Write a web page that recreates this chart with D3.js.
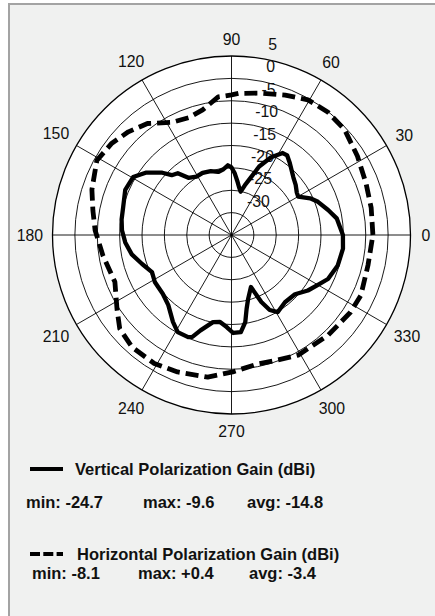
<!DOCTYPE html>
<html>
<head>
<meta charset="utf-8">
<script src="https://cdn.jsdelivr.net/npm/d3@7/dist/d3.min.js"></script>
<style>
  body { margin: 0; background: #fff; }
  svg text { font-family: "Liberation Sans", Arial, sans-serif; fill: #111; }
</style>
</head>
<body>
<script>
// polar pattern, angles in degrees (counter-clockwise from 0 = right), gain in dBi
var vertAngles = [0, 5, 9, 14.5, 21, 25, 30, 33, 38, 43, 51, 55, 58, 63, 68, 72, 75, 78, 81, 84, 87, 90, 93, 97, 102, 108, 115, 121, 127, 131, 135, 138, 144, 149.5, 157, 165.5, 172, 177.5, 184, 191, 198, 205, 211.5, 220.5, 228, 236, 241, 247, 249, 252, 258, 262.5, 267, 271, 275.5, 279, 281.5, 284.5, 290.5, 294, 297, 301, 308.5, 317, 324, 330, 335.5, 344, 353];
var vertGain = [-10.1, -10.8, -11.2, -12.7, -14.3, -15.6, -17.8, -17.6, -16.8, -16.1, -14.3, -13.3, -13.4, -15.5, -18.5, -21.8, -23.5, -25.1, -24.2, -22.8, -21.2, -19.9, -19.4, -20.2, -20.6, -20.0, -19.7, -19.8, -19.0, -16.7, -16.1, -14.2, -11.3, -9.5, -9.2, -10.0, -10.2, -10.5, -11.2, -12.3, -14.0, -15.4, -14.9, -14.8, -13.9, -11.6, -10.2, -10.2, -10.6, -12.6, -15.1, -15.4, -14.4, -13.1, -13.2, -15.3, -18.1, -20.2, -22.6, -18.6, -16.2, -14.9, -15.8, -15.6, -13.9, -12.7, -11.3, -10.3, -9.9];

var horizAngles = [0, 11, 21, 32, 43, 52, 60.5, 69, 78, 87, 90, 95.5, 103, 110, 118, 127, 135, 142.5, 151, 162, 170, 178, 189, 202, 213, 220, 228.5, 239, 248.5, 260.5, 270.5, 281.5, 290.5, 299, 314, 327, 335, 347.5];
var horizGain = [-3.4, -3.2, -2.8, -1.8, -0.45, -0.1, -0.3, -1.5, -2.6, -3.3, -3.7, -4.0, -6.3, -7.1, -6.5, -3.8, -2.4, -1.3, -0.6, -2.2, -3.55, -4.5, -5.9, -6.9, -4.5, -2.4, -1.5, -1.5, -2.1, -2.8, -4.4, -5.6, -5.2, -4.3, -3.9, -3.3, -3.1, -3.76];

var ringTicks = [5, 0, -5, -10, -15, -20, -25, -30];
var spokeAngles = [0, 30, 60, 90, 120, 150, 180, 210, 240, 270, 300, 330];

var legendItems = [
  {name: "Vertical Polarization Gain (dBi)", stats: ["min: -24.7", "max: -9.6", "avg: -14.8"]},
  {name: "Horizontal Polarization Gain (dBi)", stats: ["min: -8.1", "max: +0.4", "avg: -3.4"]}
];

var width = 435, height = 616;
var cx = 231.5, cy = 235, R = 179;

var svg = d3.select("body").append("svg")
    .attr("width", width)
    .attr("height", height);

// panel
svg.append("rect")
    .attr("x", 9).attr("y", 4)
    .attr("width", 440).attr("height", 630)
    .attr("fill", "#f0f1f0")
    .attr("stroke", "#a3a3a3")
    .attr("stroke-width", 2);

var r = d3.scaleLinear().domain([-35, 5]).range([0, R]);
var rad = function(a) { return a * Math.PI / 180; };

var g = svg.append("g").attr("transform", "translate(" + cx + "," + cy + ")");

g.append("circle").attr("r", R).attr("fill", "#fff");

// rings
g.selectAll(".ring")
  .data(ringTicks)
  .enter().append("circle")
    .attr("class", "ring")
    .attr("r", function(d) { return r(d); })
    .attr("fill", "none")
    .attr("stroke", "#000")
    .attr("stroke-width", function(d) { return d == 5 ? 1.3 : 0.9; });

// spokes
g.selectAll(".spoke")
  .data(spokeAngles)
  .enter().append("line")
    .attr("class", "spoke")
    .attr("x1", 0).attr("y1", 0)
    .attr("x2", function(d) { return R * Math.cos(rad(d)); })
    .attr("y2", function(d) { return -R * Math.sin(rad(d)); })
    .attr("stroke", "#000")
    .attr("stroke-width", 0.9);

// angle labels
function labelR(d) {
  var w = String(d).length * 8.8;
  return 191 + 0.4 * w * Math.abs(Math.cos(rad(d))) + 5 * Math.abs(Math.sin(rad(d)));
}
g.selectAll(".alabel")
  .data(spokeAngles)
  .enter().append("text")
    .attr("class", "alabel")
    .attr("text-anchor", "middle")
    .attr("dominant-baseline", "central")
    .style("font-size", "15.8px")
    .attr("x", function(d) { return labelR(d) * Math.cos(rad(d)); })
    .attr("y", function(d) { return -labelR(d) * Math.sin(rad(d)); })
    .text(function(d) { return d; });

// ring labels
g.selectAll(".rlabel")
  .data(ringTicks)
  .enter().append("text")
    .attr("class", "rlabel")
    .attr("text-anchor", "middle")
    .style("font-size", "15.8px")
    .attr("x", function(d) { return 25 + 0.09 * r(d); })
    .attr("y", function(d) { return -r(d) - 6; })
    .text(function(d) { return d; });

// curves
var line = d3.lineRadial()
    .angle(function(d) { return rad(90 - d[0]); })
    .radius(function(d) { return r(d[1]); })
    .curve(d3.curveLinearClosed);

var vert = vertAngles.map(function(a, i) { return [a, vertGain[i]]; });
var horiz = horizAngles.map(function(a, i) { return [a, horizGain[i]]; });

g.append("path")
    .attr("d", line(horiz))
    .attr("fill", "none")
    .attr("stroke", "#000")
    .attr("stroke-width", 4.8)
    .attr("stroke-dasharray", "13,6")
    .attr("stroke-linejoin", "round");

g.append("path")
    .attr("d", line(vert))
    .attr("fill", "none")
    .attr("stroke", "#000")
    .attr("stroke-width", 4.3)
    .attr("stroke-linejoin", "round");

// legend
var leg = svg.append("g");
var legY = [469, 554];
var nameY = [475, 560];
var nameX = [75, 77];
var statY = [508, 579];
var statX = [[26, 143, 247], [32, 138, 249]];

legendItems.forEach(function(item, i) {
  leg.append("line")
      .attr("x1", 30).attr("x2", 63)
      .attr("y1", legY[i]).attr("y2", legY[i])
      .attr("stroke", "#000")
      .attr("stroke-width", 4)
      .attr("stroke-dasharray", i == 1 ? "10,3.3" : null);
  leg.append("text")
      .attr("x", nameX[i]).attr("y", nameY[i])
      .style("font-size", "16.5px")
      .style("font-weight", "bold")
      .text(item.name);
  item.stats.forEach(function(s, j) {
    leg.append("text")
        .attr("x", statX[i][j]).attr("y", statY[i])
        .style("font-size", "16.5px")
        .style("font-weight", "bold")
        .text(s);
  });
});
</script>
</body>
</html>
